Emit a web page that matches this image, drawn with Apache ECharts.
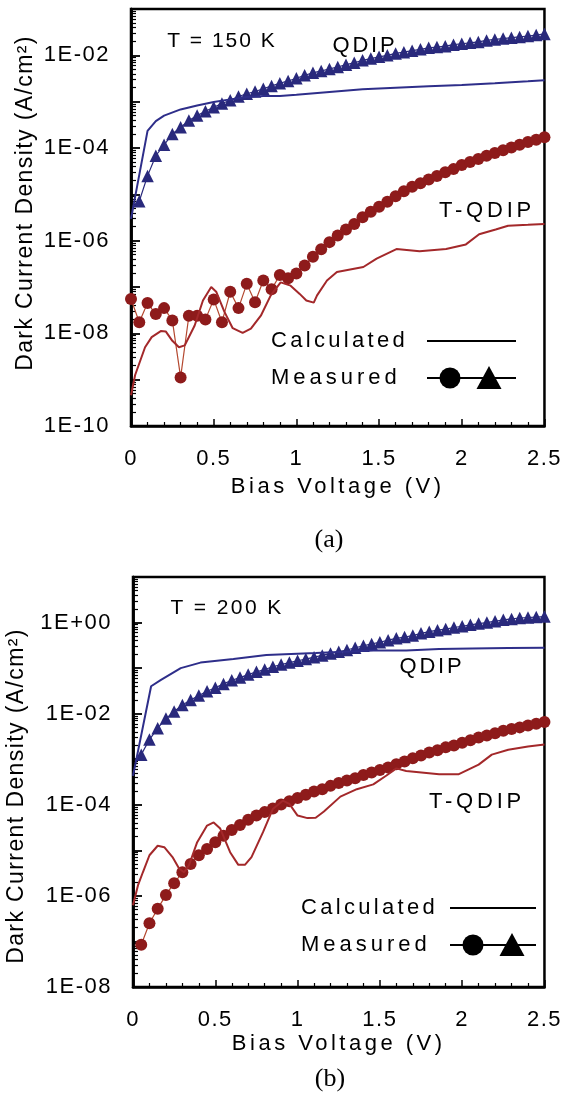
<!DOCTYPE html>
<html><head><meta charset="utf-8">
<script src="https://cdn.jsdelivr.net/npm/echarts@6/dist/echarts.min.js"></script>
<style>html,body{margin:0;padding:0;background:#fff}#c{width:565px;height:1100px}</style>
</head><body><div id="c"></div>
<script>
// ---------------- DATA ----------------
// Bias voltages of measured points (V)
const biasMeas = [0.05,0.10,0.15,0.20,0.25,0.30,0.35,0.40,0.45,0.50,0.55,0.60,0.65,0.70,0.75,0.80,0.85,0.90,0.95,1.00,
  1.05,1.10,1.15,1.20,1.25,1.30,1.35,1.40,1.45,1.50,1.55,1.60,1.65,1.70,1.75,1.80,1.85,1.90,1.95,2.00,
  2.05,2.10,2.15,2.20,2.25,2.30,2.35,2.40,2.45,2.50];
const biasMeasFrom0 = [0.00,0.05,0.10,0.15,0.20,0.25,0.30,0.35,0.40,0.45,0.50,0.55,0.60,0.65,0.70,0.75,0.80,0.85,0.90,0.95,1.00,
  1.05,1.10,1.15,1.20,1.25,1.30,1.35,1.40,1.45,1.50,1.55,1.60,1.65,1.70,1.75,1.80,1.85,1.90,1.95,2.00,
  2.05,2.10,2.15,2.20,2.25,2.30,2.35,2.40,2.45,2.50];

// (a) T = 150 K
const jA_QDIP_meas = [7.1e-6,2.5e-5,6.8e-5,1.17e-4,2.0e-4,2.8e-4,3.9e-4,5.0e-4,6.2e-4,7.6e-4,
  9.1e-4,1.07e-3,1.29e-3,1.48e-3,1.66e-3,1.9e-3,2.19e-3,2.5e-3,2.8e-3,3.2e-3,
  3.7e-3,4.2e-3,4.6e-3,5.1e-3,5.6e-3,6.3e-3,6.9e-3,7.8e-3,8.5e-3,9.3e-3,
  1.0e-2,1.10e-2,1.17e-2,1.26e-2,1.35e-2,1.45e-2,1.51e-2,1.58e-2,1.70e-2,1.78e-2,
  1.86e-2,1.95e-2,2.1e-2,2.2e-2,2.3e-2,2.4e-2,2.5e-2,2.6e-2,2.75e-2,2.9e-2];
const biasA_QDIP_calc = [0.00,0.10,0.15,0.20,0.30,0.40,0.50,0.60,0.70,0.80,0.90,1.00,1.20,1.40,1.60,1.80,2.00,2.20,2.40,2.50];
const jA_QDIP_calc = [2.95e-6,2.34e-4,3.8e-4,5.0e-4,6.8e-4,8.3e-4,9.8e-4,1.12e-3,1.26e-3,1.32e-3,1.32e-3,1.41e-3,1.62e-3,1.86e-3,2.0e-3,2.14e-3,2.29e-3,2.5e-3,2.75e-3,2.9e-3];
const jA_TQDIP_meas = [5.5e-8,1.74e-8,4.5e-8,2.6e-8,3.5e-8,1.9e-8,1.12e-9,2.4e-8,2.4e-8,2.0e-8,
  5.4e-8,1.74e-8,7.9e-8,3.5e-8,1.17e-7,4.7e-8,1.38e-7,8.9e-8,1.82e-7,1.55e-7,1.95e-7,
  2.9e-7,4.5e-7,6.5e-7,9.3e-7,1.29e-6,1.74e-6,2.3e-6,3.2e-6,4.2e-6,5.4e-6,
  6.9e-6,9.1e-6,1.17e-5,1.45e-5,1.74e-5,2.1e-5,2.5e-5,3.0e-5,3.5e-5,4.3e-5,
  5.0e-5,5.8e-5,6.8e-5,7.8e-5,8.9e-5,1.02e-4,1.17e-4,1.35e-4,1.51e-4,1.70e-4];
const biasA_TQDIP_calc = [0.00,0.025,0.085,0.125,0.18,0.21,0.25,0.29,0.325,0.385,0.435,0.485,0.515,0.565,0.615,0.675,0.725,0.785,0.845,0.905,0.965,
  1.02,1.06,1.105,1.125,1.185,1.245,1.405,1.485,1.605,1.745,1.905,2.025,2.105,2.205,2.28,2.40,2.50];
const jA_TQDIP_calc = [4.6e-10,1.26e-9,5.0e-9,8.3e-9,1.12e-8,1.10e-8,6.9e-9,5.0e-9,5.5e-9,1.48e-8,5.1e-8,1.0e-7,7.9e-8,2.9e-8,1.29e-8,1.02e-8,1.26e-8,2.4e-8,6.6e-8,1.26e-7,1.07e-7,
  7.1e-8,5.1e-8,4.6e-8,6.6e-8,1.38e-7,2.1e-7,2.7e-7,4.1e-7,6.6e-7,5.9e-7,6.6e-7,8.3e-7,1.38e-6,1.74e-6,2.1e-6,2.2e-6,2.3e-6];

// (b) T = 200 K
const jB_QDIP_meas = [1.26e-3,2.7e-3,4.8e-3,7.8e-3,1.12e-2,1.55e-2,2.0e-2,2.5e-2,3.1e-2,3.7e-2,
  4.5e-2,5.4e-2,6.2e-2,7.2e-2,8.3e-2,9.3e-2,0.107,0.120,0.132,0.145,
  0.158,0.174,0.19,0.21,0.23,0.25,0.28,0.31,0.34,0.37,
  0.41,0.45,0.48,0.52,0.58,0.63,0.68,0.72,0.78,0.83,
  0.89,0.95,1.00,1.07,1.15,1.20,1.26,1.29,1.32,1.35];
const biasB_QDIP_calc = [0.00,0.11,0.17,0.29,0.41,0.61,0.81,1.11,1.46,1.66,1.86,2.06,2.28,2.50];
const jB_QDIP_calc = [4.3e-4,4.0e-2,5.5e-2,0.10,0.132,0.158,0.195,0.214,0.245,0.245,0.263,0.27,0.275,0.28];
const jB_TQDIP_meas = [8.5e-8,2.5e-7,5.2e-7,1.05e-6,1.9e-6,3.3e-6,5.0e-6,7.8e-6,1.07e-5,1.51e-5,
  2.1e-5,2.8e-5,3.6e-5,4.7e-5,5.8e-5,6.9e-5,8.3e-5,1.02e-4,1.20e-4,1.41e-4,
  1.66e-4,1.95e-4,2.2e-4,2.6e-4,3.0e-4,3.4e-4,3.8e-4,4.5e-4,5.1e-4,5.8e-4,
  6.6e-4,7.8e-4,8.9e-4,1.05e-3,1.20e-3,1.41e-3,1.58e-3,1.82e-3,2.0e-3,2.3e-3,
  2.6e-3,3.0e-3,3.3e-3,3.7e-3,4.2e-3,4.6e-3,5.0e-3,5.5e-3,6.0e-3,6.6e-3];
const biasB_TQDIP_calc = [0.00,0.03,0.06,0.10,0.15,0.19,0.24,0.28,0.31,0.34,0.39,0.45,0.49,0.53,0.59,0.64,0.68,0.72,0.79,0.85,0.91,0.95,
  1.00,1.06,1.11,1.16,1.26,1.36,1.46,1.54,1.60,1.66,1.86,1.98,2.10,2.18,2.28,2.40,2.50];
const jB_TQDIP_calc = [6.2e-7,1.7e-6,3.3e-6,7.8e-6,1.26e-5,1.17e-5,7.1e-6,4.0e-6,3.3e-6,4.7e-6,1.51e-5,3.5e-5,4.1e-5,3.0e-5,9.1e-6,4.8e-6,4.8e-6,7.1e-6,2.5e-5,8.1e-5,1.23e-4,1.05e-4,
  5.8e-5,5.1e-5,5.2e-5,7.1e-5,1.51e-4,2.2e-4,2.8e-4,4.4e-4,6.3e-4,5.5e-4,4.7e-4,4.7e-4,7.6e-4,1.26e-3,1.62e-3,1.9e-3,2.1e-3];

// Tick labels
const xTickLabels = ['0','0.5','1','1.5','2','2.5'];
const yLabelValsA = [1e-10,1e-8,1e-6,1e-4,1e-2];
const yLabelsA = ['1E-10','1E-08','1E-06','1E-04','1E-02'];
const yLabelValsB = [1e-8,1e-6,1e-4,1e-2,1];
const yLabelsB = ['1E-08','1E-06','1E-04','1E-02','1E+00'];
const Y_TITLE = 'Dark Current Density (A/cm²)';

// ---------------- letter spacing (text tracking like the original figure) ----------------
const SPACING = {'Bias Voltage (V)':3.5,'Dark Current Density (A/cm²)':1.4,'Calculated':3.3,'Measured':4,
  'T = 150 K':2,'T = 200 K':2.4,'QDIP':2.8,'T-QDIP':3.8,'(a)':0,'(b)':0};
(function(){
  const P = CanvasRenderingContext2D.prototype;
  if (!('letterSpacing' in P)) return;
  const ls = t => ((t in SPACING) ? SPACING[t] : 1.5) + 'px';
  const fT = P.fillText, sT = P.strokeText, mT = P.measureText;
  P.fillText = function(t){ this.letterSpacing = ls(String(t)); return fT.apply(this, arguments); };
  P.strokeText = function(t){ this.letterSpacing = ls(String(t)); return sT.apply(this, arguments); };
  P.measureText = function(t){ this.letterSpacing = ls(String(t)); return mT.apply(this, arguments); };
})();

// ---------------- CHART ----------------
const SANS = '"Liberation Sans", Arial, sans-serif';
const SERIF = '"Liberation Serif", "Times New Roman", serif';
const BLUE = '#29297c', BLUE_CALC = '#2e2e8a';
const RED_DOT = '#8e1b1b', RED_LINE = '#b4482f', RED_CALC = '#a3282a';
const AXLINE = {show:true, onZero:false, lineStyle:{color:'#000', width:2.5}};

function zip(xs, ys){ return xs.map((x,i)=>[x, ys[i]]); }
function decadeTicks(e0, e1){ const r=[]; for(let e=e0;e<=e1;e++) r.push(Math.pow(10,e)); return r; }
function minorTicks(e0, e1){ const r=[]; for(let e=e0;e<e1;e++) for(let m=2;m<=9;m++) r.push(m*Math.pow(10,e)); return r; }

function xAxis(g, gap){
  return {type:'value', gridIndex:g, min:0, max:2.5, interval:0.5,
    axisLine:AXLINE,
    axisTick:{show:true, inside:true, length:7, lineStyle:{color:'#000', width:1.5}},
    minorTick:{show:true, splitNumber:5, length:4, lineStyle:{color:'#000', width:1.2}},
    splitLine:{show:false}, minorSplitLine:{show:false},
    axisLabel:{margin:21, fontSize:22, fontFamily:SANS, color:'#000', formatter:(v,i)=>xTickLabels[i]},
    name:'Bias Voltage (V)', nameLocation:'middle', nameGap:gap,
    nameTextStyle:{fontSize:22, fontFamily:SANS, color:'#000'}};
}
function yAxes(g, eMin, eMax, labelVals, labels){
  const min = Math.pow(10,eMin), max = Math.pow(10,eMax);
  return [
    {type:'log', logBase:10, gridIndex:g, position:'left', min, max,
      axisLine:AXLINE,
      axisTick:{show:true, inside:true, length:5, lineStyle:{color:'#000', width:1.2}, customValues:minorTicks(eMin,eMax)},
      axisLabel:{show:false}, splitLine:{show:false}, minorTick:{show:false}},
    {type:'log', logBase:10, gridIndex:g, position:'left', min, max,
      axisLine:AXLINE,
      axisTick:{show:true, inside:true, length:9, lineStyle:{color:'#000', width:1.8}, customValues:decadeTicks(eMin,eMax)},
      axisLabel:{margin:21, fontSize:22, fontFamily:SANS, color:'#000', customValues:labelVals,
        formatter:(v)=>{ const k = labelVals.findIndex(t=>Math.abs(Math.log10(t)-Math.log10(v))<0.01); return k>=0?labels[k]:''; }},
      splitLine:{show:false}, minorTick:{show:false}}
  ];
}

const yA = yAxes(0, -10, -1, yLabelValsA, yLabelsA);
const yB = yAxes(1, -8, 1, yLabelValsB, yLabelsB);

function measSeries(xi, yi, xs, ys, sym, size, color, lineColor){
  return {type:'line', xAxisIndex:xi, yAxisIndex:yi, data:zip(xs,ys), symbol:sym, symbolSize:size,
    itemStyle:{color:color}, lineStyle:{color:lineColor, width:1.2}, z:2};
}
function calcSeries(xi, yi, xs, ys, color){
  return {type:'line', xAxisIndex:xi, yAxisIndex:yi, data:zip(xs,ys), symbol:'none',
    lineStyle:{color:color, width:2}, z:3};
}

function txt(x, y, text, size, align, family, rot){
  return {type:'text', x:x, y:y, z:10, rotation:rot||0, style:{text:text, fill:'#000',
    font:size+'px '+(family||SANS), align:align||'center', verticalAlign:'middle'}};
}
function legend(xText, yCalc, yMeas, lx1, lx2, cx, tx){
  return [
    txt(xText, yCalc, 'Calculated', 22, 'left'),
    txt(xText, yMeas, 'Measured', 22, 'left'),
    {type:'line', z:10, shape:{x1:lx1, y1:yCalc, x2:lx2, y2:yCalc}, style:{stroke:'#000', lineWidth:2}},
    {type:'line', z:10, shape:{x1:lx1, y1:yMeas, x2:lx2, y2:yMeas}, style:{stroke:'#000', lineWidth:2}},
    {type:'circle', z:11, shape:{cx:cx, cy:yMeas, r:10.5}, style:{fill:'#000'}},
    {type:'polygon', z:11, shape:{points:[[tx, yMeas-12],[tx-12.5, yMeas+11],[tx+12.5, yMeas+11]]}, style:{fill:'#000'}}
  ];
}

const option = {
  animation:false,
  backgroundColor:'#fff',
  grid:[
    {left:131, top:9, width:417, height:417, show:true, borderColor:'#000', borderWidth:2.5},
    {left:133, top:577, width:420, height:410, show:true, borderColor:'#000', borderWidth:2.5}
  ],
  xAxis:[xAxis(0, 49), xAxis(1, 44)],
  yAxis:[yA[0], yA[1], yB[0], yB[1]],
  series:[
    measSeries(0,1,biasMeas,jA_QDIP_meas,'triangle',12.5,BLUE,BLUE),
    calcSeries(0,1,biasA_QDIP_calc,jA_QDIP_calc,BLUE_CALC),
    measSeries(0,1,biasMeasFrom0,jA_TQDIP_meas,'circle',12,RED_DOT,RED_LINE),
    calcSeries(0,1,biasA_TQDIP_calc,jA_TQDIP_calc,RED_CALC),
    measSeries(1,3,biasMeas,jB_QDIP_meas,'triangle',12.5,BLUE,BLUE),
    calcSeries(1,3,biasB_QDIP_calc,jB_QDIP_calc,BLUE_CALC),
    measSeries(1,3,biasMeas,jB_TQDIP_meas,'circle',12,RED_DOT,RED_LINE),
    calcSeries(1,3,biasB_TQDIP_calc,jB_TQDIP_calc,RED_CALC)
  ],
  graphic:[
    txt(26, 203, Y_TITLE, 23, 'center', SANS, Math.PI/2),
    txt(222, 41, 'T = 150 K', 21),
    txt(365, 46, 'QDIP', 22),
    txt(487, 211, 'T-QDIP', 22),
    ...legend(271, 341, 378, 427, 516, 450, 489),
    txt(329, 540, '(a)', 26, 'center', SERIF),
    txt(17, 796, Y_TITLE, 23, 'center', SANS, Math.PI/2),
    txt(227, 608, 'T = 200 K', 21),
    txt(432, 667, 'QDIP', 22),
    txt(477, 802, 'T-QDIP', 22),
    ...legend(301, 908, 945, 450, 536, 473, 512),
    txt(330, 1079, '(b)', 26, 'center', SERIF)
  ]
};
const chart = echarts.init(document.getElementById('c'), null, {renderer:'canvas', width:565, height:1100});
chart.setOption(option);
</script></body></html>
